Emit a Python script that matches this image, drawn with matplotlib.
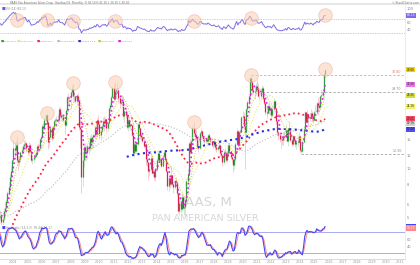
import numpy as np
import pandas as pd
import matplotlib
matplotlib.use("Agg")
import matplotlib.pyplot as plt

# PAAS monthly bars, dividend adjusted
first_month = "1995-05"

# closes before the visible window, only used for the long averages
pre_close = [5.2, 5.5, 5.8, 6.2, 6.6, 6.0, 6.3, 6.8,
             7.5, 8.3, 8.0, 8.6, 9.2, 8.4, 7.8, 7.4, 7.9, 8.2, 7.6, 7.2,
             7.6, 7.0, 6.5, 6.0, 6.4, 6.1, 6.6, 6.9, 7.2, 6.3, 5.6, 5.3,
             5.6, 6.0, 5.7, 6.3, 5.5, 4.9, 5.1, 4.2, 4.8, 5.2, 4.9, 4.5,
             4.4, 4.2, 4.0, 4.3, 4.1, 3.9, 4.2, 4.0, 4.6, 4.1, 3.8, 3.9,
             3.6, 3.4, 3.2, 3.0, 3.1, 3.3, 3.0, 2.8, 2.9, 2.6, 2.5, 2.4,
             2.5, 2.4, 2.3, 2.6, 2.8, 2.7, 2.6, 2.5, 2.7, 2.9, 3.1, 3.6,
             4.0, 4.3, 4.6, 5.3, 5.9, 5.6, 5.2, 5.5, 5.9, 5.3, 5.6, 5.4]

close = [5.0, 5.1, 4.7, 4.9, 5.5, 5.7, 6.3, 7.1, 7.7, 8.9, 9.7, 11.3,          # 2003
         13.3, 13.0, 14.0, 11.3, 10.9, 11.4, 12.6, 13.1, 13.8, 14.2, 14.4, 13.3,  # 2004
         12.6, 14.0, 12.9, 11.3, 11.5, 11.8, 12.0, 12.4, 13.8, 13.4, 15.2, 15.6,  # 2005
         18.2, 17.9, 20.0, 21.5, 19.4, 14.6, 15.6, 17.8, 15.4, 18.0, 19.6, 19.9,  # 2006
         20.1, 19.9, 23.4, 21.3, 20.8, 20.8, 20.0, 18.6, 22.9, 27.7, 27.2, 27.6,  # 2007
         29.5, 31.0, 28.1, 28.1, 26.2, 28.0, 26.3, 18.0, 17.5, 8.9, 11.3, 13.5,   # 2008
         12.5, 12.6, 13.7, 13.3, 15.4, 14.5, 15.6, 16.0, 18.0, 16.3, 20.0, 18.8,  # 2009
         16.1, 17.0, 18.3, 19.7, 19.0, 20.2, 17.8, 19.0, 23.7, 24.6, 27.8, 31.4,  # 2010
         26.7, 30.3, 30.4, 30.6, 27.2, 25.3, 25.8, 26.2, 21.0, 22.6, 21.4, 18.0,  # 2011
         19.8, 18.2, 18.6, 16.1, 12.5, 14.2, 12.9, 14.2, 18.7, 17.8, 16.1, 15.7,  # 2012
         14.8, 13.8, 14.2, 11.5, 10.9, 9.7, 9.9, 11.6, 9.4, 9.6, 8.9, 9.9,        # 2013
         11.3, 12.4, 11.3, 11.4, 10.4, 12.0, 12.7, 11.5, 9.6, 7.8, 8.7, 8.0,      # 2014
         9.1, 8.0, 7.7, 8.4, 8.2, 7.1, 5.5, 6.1, 5.6, 6.7, 5.7, 5.8,              # 2015
         6.3, 8.4, 9.3, 14.4, 12.7, 14.7, 17.9, 16.5, 16.0, 15.4, 13.7, 13.4,     # 2016
         16.5, 17.1, 15.8, 15.1, 14.7, 15.2, 14.7, 16.1, 15.3, 14.7, 13.9, 14.0,  # 2017
         14.6, 13.6, 13.2, 13.5, 13.9, 12.4, 12.1, 11.0, 12.7, 12.4, 11.3, 12.5,  # 2018
         13.9, 12.8, 11.7, 11.4, 10.5, 11.4, 14.2, 17.1, 14.0, 16.8, 16.9, 20.9,  # 2019
         21.1, 18.4, 16.7, 23.2, 25.9, 28.0, 36.4, 34.4, 30.4, 29.8, 30.2, 32.4,  # 2020
         31.2, 28.1, 28.2, 29.6, 31.4, 27.2, 25.4, 22.4, 22.1, 24.3, 23.0, 23.7,  # 2021
         21.4, 23.3, 26.2, 23.5, 19.6, 16.8, 16.2, 15.2, 15.3, 15.0, 15.9, 15.6,  # 2022
         17.3, 14.7, 17.7, 17.4, 15.1, 14.2, 15.8, 14.9, 14.1, 14.6, 14.7, 15.8,  # 2023
         13.0, 12.9, 14.6, 17.6, 22.2, 19.5, 21.7, 20.8, 20.4, 21.9, 21.1, 19.8,  # 2024
         22.3, 22.2, 25.3, 24.6, 24.1, 28.1, 28.4, 29.8, 38.1, 40.6]              # 2025

high = [5.7, 5.5, 5.3, 5.1, 5.7, 6.2, 6.5, 7.3, 8.2, 9.2, 10.3, 11.5,
        15.0, 14.3, 14.8, 15.6, 12.0, 11.9, 12.9, 13.5, 14.2, 14.9, 15.0, 14.6,
        13.6, 14.5, 14.4, 13.1, 12.1, 12.3, 12.5, 12.9, 14.2, 14.3, 15.5, 16.1,
        18.9, 19.2, 20.4, 21.8, 22.0, 19.6, 16.4, 18.4, 18.3, 18.4, 20.2, 20.5,
        21.0, 21.6, 23.8, 24.0, 22.2, 21.6, 21.8, 20.1, 23.2, 28.3, 29.3, 28.0,
        30.2, 32.6, 33.8, 29.8, 28.6, 29.0, 29.4, 26.6, 20.2, 17.9, 12.4, 13.9,
        14.3, 13.9, 14.3, 14.6, 16.0, 16.3, 15.9, 16.5, 18.5, 19.0, 20.6, 21.4,
        19.6, 17.6, 18.8, 20.8, 21.0, 20.8, 20.4, 19.4, 23.9, 25.6, 28.6, 31.9,
        33.2, 34.3, 31.6, 33.5, 31.4, 27.6, 27.4, 28.5, 27.6, 23.6, 23.8, 21.6,
        20.6, 20.7, 19.4, 18.8, 16.3, 14.6, 14.6, 14.6, 19.0, 19.4, 17.9, 16.6,
        16.4, 15.3, 14.5, 14.3, 11.9, 11.0, 10.7, 12.4, 12.1, 10.3, 9.9, 10.1,
        11.6, 13.0, 12.9, 11.9, 11.4, 12.2, 13.1, 12.8, 11.6, 9.7, 9.0, 9.2,
        10.4, 9.3, 8.3, 8.6, 8.9, 8.3, 7.2, 6.3, 6.4, 7.1, 6.9, 6.1,
        6.5, 8.7, 10.0, 14.6, 15.3, 14.9, 18.6, 19.3, 17.7, 17.6, 16.0, 14.7,
        16.9, 17.9, 17.3, 16.2, 15.6, 15.6, 15.6, 16.4, 16.6, 15.6, 14.9, 14.5,
        15.4, 14.7, 13.8, 14.0, 14.3, 14.1, 12.9, 12.2, 13.1, 13.3, 12.9, 12.8,
        14.6, 14.3, 12.9, 12.0, 11.5, 11.8, 14.6, 17.9, 17.4, 17.2, 17.6, 21.2,
        22.6, 22.3, 19.5, 23.6, 26.6, 28.8, 36.8, 37.8, 35.2, 32.6, 32.4, 33.6,
        35.0, 33.5, 30.0, 31.0, 32.9, 32.2, 28.5, 25.9, 23.8, 25.5, 25.9, 24.5,
        23.9, 24.2, 27.0, 26.6, 23.6, 19.8, 17.1, 16.8, 16.0, 16.2, 16.7, 17.1,
        18.8, 17.3, 17.8, 19.6, 17.5, 15.5, 16.2, 16.0, 15.2, 15.1, 15.9, 16.7,
        16.0, 13.4, 15.0, 18.2, 22.6, 22.3, 23.0, 22.1, 21.9, 23.4, 22.6, 21.7,
        22.9, 24.5, 25.8, 27.6, 26.0, 28.6, 31.0, 30.4, 38.4, 41.2]

low = [4.8, 4.8, 4.5, 4.5, 4.8, 5.3, 5.6, 6.2, 6.9, 7.6, 8.5, 9.5,
       11.0, 11.6, 12.2, 10.8, 9.8, 10.3, 11.0, 12.0, 12.6, 13.2, 13.6, 12.6,
       12.2, 12.3, 12.6, 10.9, 10.6, 11.0, 11.4, 11.8, 12.2, 12.8, 13.2, 14.6,
       15.4, 17.0, 17.4, 19.6, 17.6, 13.2, 13.6, 15.4, 14.8, 15.2, 17.7, 18.6,
       19.1, 19.0, 19.5, 20.8, 20.2, 19.6, 19.3, 16.2, 18.3, 22.4, 25.0, 24.3,
       23.4, 28.3, 26.4, 25.8, 25.2, 24.8, 25.4, 17.4, 13.4, 7.1, 7.8, 10.2,
       11.3, 11.2, 11.4, 12.3, 12.9, 13.8, 13.4, 14.4, 15.3, 15.6, 15.8, 17.7,
       15.2, 15.0, 16.7, 18.1, 17.0, 18.4, 17.1, 17.3, 18.8, 22.6, 24.0, 27.4,
       25.6, 26.5, 27.4, 29.5, 25.3, 23.6, 24.6, 23.8, 20.3, 19.0, 20.4, 17.5,
       17.1, 17.9, 17.3, 15.6, 12.1, 11.8, 12.4, 12.5, 14.0, 16.7, 15.2, 15.0,
       14.5, 13.3, 13.0, 10.4, 10.3, 8.5, 9.0, 9.7, 9.2, 9.0, 8.5, 8.4,
       9.7, 11.0, 11.0, 10.8, 10.2, 10.2, 11.8, 11.3, 9.5, 7.4, 7.3, 7.6,
       7.9, 7.9, 7.1, 7.5, 7.9, 6.9, 5.3, 5.2, 5.3, 5.5, 5.6, 5.2,
       5.0, 6.0, 8.1, 9.2, 12.3, 12.5, 14.6, 16.0, 14.8, 14.9, 13.2, 12.6,
       13.2, 16.0, 15.4, 14.5, 14.0, 14.4, 14.2, 14.5, 15.0, 14.3, 13.5, 13.2,
       13.5, 13.1, 12.6, 12.8, 13.2, 12.0, 11.6, 10.3, 10.6, 11.8, 10.9, 11.0,
       12.3, 12.6, 11.5, 10.8, 9.5, 10.0, 11.2, 13.9, 13.5, 13.6, 15.9, 16.8,
       19.4, 17.6, 10.0, 15.4, 21.6, 24.5, 27.9, 31.3, 28.3, 28.9, 27.0, 28.4,
       29.5, 27.6, 26.3, 27.0, 29.3, 26.6, 24.6, 21.4, 20.6, 21.8, 21.8, 21.5,
       20.6, 20.9, 22.5, 23.2, 18.7, 15.9, 14.9, 14.6, 13.4, 13.9, 14.0, 14.9,
       15.4, 14.5, 13.8, 16.8, 14.5, 13.7, 14.0, 14.7, 13.6, 13.2, 13.8, 14.3,
       12.7, 12.3, 12.7, 14.5, 17.3, 19.1, 19.3, 18.3, 19.6, 20.4, 19.7, 19.2,
       19.6, 21.4, 21.8, 21.4, 22.5, 23.6, 26.9, 27.0, 29.8, 36.2]

peak_months = ["2004-04", "2006-05", "2008-03", "2011-02", "2016-08", "2020-08", "2025-10"]
res_level, res_from = 37.8, "2020-08"
sup_levels = [29.7, 12.3]
sup_from = ["2021-05", "2024-02"]

ma_periods = [20, 50, 100, 200, 10, 5]
ma_colors = ['#e9e96e', '#ff2646', '#bcbcbc', '#1f2fe8', '#c4c43a', '#e01ee0']
ma_widths = [0.8, 1.3, 0.8, 1.5, 0.7, 1.2]
years = list(range(2004, 2032))

# ---------------------------------------------------------------
c = pd.Series(pre_close + close, dtype=float)
h = pd.Series(pre_close + high, dtype=float)
l = pd.Series(pre_close + low, dtype=float)
o = c.shift(1).fillna(c.iloc[0])
months = pd.period_range(first_month, periods=len(c), freq="M")
t = np.array([p.year + (p.month - 1) / 12 for p in months])


def idx(m):
    return months.get_loc(pd.Period(m, "M"))


mas = [c.rolling(n).mean() for n in ma_periods]

d = c.diff()
gain = d.clip(lower=0).ewm(alpha=1 / 14, adjust=False).mean()
loss = (-d.clip(upper=0)).ewm(alpha=1 / 14, adjust=False).mean()
rsi = 100 - 100 / (1 + gain / loss)

lo14 = l.rolling(14).min()
hi14 = h.rolling(14).max()
stoch_k = (100 * (c - lo14) / (hi14 - lo14)).rolling(3).mean()
stoch_d = stoch_k.rolling(3).mean()

vis = t >= 2003
X0, X1 = 2003.07, 2031.33

fig = plt.figure(figsize=(4.2, 2.65), dpi=100)
fig.patch.set_facecolor('white')


def box(x0, y0, x1, y1):
    return [x0 / 420, 1 - y1 / 265, (x1 - x0) / 420, (y1 - y0) / 265]


ax_r = fig.add_axes(box(0, 5, 405, 38))
ax = fig.add_axes(box(0, 38, 405, 225))
ax_s = fig.add_axes(box(0, 225, 405, 259))

for a in (ax_r, ax, ax_s):
    a.set_xlim(X0, X1)
    for s in ('left', 'top'):
        a.spines[s].set_visible(False)
    a.spines['bottom'].set_color('#d4d4d4')
    a.spines['right'].set_color('#e4e4e4')
    a.spines['bottom'].set_linewidth(0.6)
    a.spines['right'].set_linewidth(0.5)
    a.yaxis.tick_right()
    a.tick_params(axis='y', length=0, pad=1.5, labelsize=2.6, labelcolor='#8a8a8a')
    a.tick_params(axis='x', length=0, labelbottom=False)
    a.set_facecolor('white')

fig.add_artist(plt.Line2D([0, 1], [1 - 4 / 265] * 2, color='#e2e2e2', lw=1.2))
fig.text(0.025, 0.997, "PAAS Pan American Silver Corp.  Nasdaq GS  Monthly  O 38.10 H 41.20 L 36.20 C 40.60",
         fontsize=2.0, color='#777777', va='top')
fig.text(0.997, 0.997, "\u00a9 StockCharts.com", fontsize=2.0, color='#777777', va='top', ha='right')

# ---- price panel
ax.set_yscale('log')
ax.set_ylim(4.48, 63.9)
ax.set_yticks([5, 6, 8, 10, 12, 15])
ax.set_yticklabels(['5', '6', '8', '10', '12', '15'])
ax.yaxis.set_minor_locator(matplotlib.ticker.NullLocator())

ax.text(0.506, 0.118, "PAAS, M", transform=ax.transAxes, ha='center', va='center',
        fontsize=9.5, color='#d6d6d6', zorder=0)
ax.text(0.506, 0.037, "PAN AMERICAN SILVER", transform=ax.transAxes, ha='center', va='center',
        fontsize=6.8, color='#d6d6d6', zorder=0)

up = (c >= o).values
body_col = np.where(up, '#2f9e3c', '#d61f4c')
wick_col = np.where(up, '#bfdcbf', '#f2b8c6')
ax.vlines(t[vis], l[vis], h[vis], colors=wick_col[vis], lw=0.5, zorder=2)
ax.vlines(t[vis], np.minimum(o, c)[vis], np.maximum(o, c)[vis], colors=body_col[vis], lw=0.9, zorder=3)

for ma, col, lw in zip(mas, ma_colors, ma_widths):
    ax.plot(t[vis], ma[vis], color=col, lw=lw, ls=':', zorder=4)

i_res = idx(res_from)
ax.hlines(res_level, t[i_res], X1, colors='#f5a0a0', lw=0.6, ls=(0, (3, 2)), zorder=1)
ax.text(0.992, res_level * 1.02, f"{res_level:.2f}", transform=ax.get_yaxis_transform(),
        ha='right', va='bottom', fontsize=2.3, color='#ee7070')
for lev, m in zip(sup_levels, sup_from):
    ax.hlines(lev, t[idx(m)], X1, colors='#a8a8a8', lw=0.6, ls=(0, (3, 2)), zorder=1)
    ax.text(0.992, lev * 1.01, f"{lev:.2f}", transform=ax.get_yaxis_transform(),
            ha='right', va='bottom', fontsize=2.3, color='#888888')

pk = [idx(m) for m in peak_months]
ax.scatter(t[pk], h.values[pk], s=95, facecolor='#fbcfb4', edgecolor='#f2a98a',
           lw=0.6, alpha=0.55, zorder=6)

# legend row
last = len(c) - 1
leg_names = ["PAAS"] + [f"MA{n}" for n in ma_periods]
leg_vals = [c.iloc[last]] + [m.iloc[last] for m in mas]
leg_cols = ['#2f9e3c'] + ma_colors
leg_x = [1, 17, 37, 57, 78, 98, 118]
for xp, nm, v, col in zip(leg_x, leg_names, leg_vals, leg_cols):
    ax.text(xp / 405, 0.984, "\u25a0", transform=ax.transAxes, fontsize=2.4, color=col, va='center')
    ax.text(xp / 405 + 0.007, 0.984, f"{nm} {v:.1f}", transform=ax.transAxes,
            fontsize=1.7, color='#8a8a8a', va='center')

# value boxes on the right axis, pushed apart so they do not cover each other
box_series = [c.iloc[last], mas[5].iloc[last], mas[4].iloc[last], mas[0].iloc[last],
              mas[1].iloc[last], mas[2].iloc[last], mas[3].iloc[last]]
box_cols = ['#f0d200', '#e874e8', '#d2dc3c', '#f0f06a', '#f24a66', '#cfcfcf', '#5050f0']
order = np.argsort(box_series)[::-1]
prev_px = None
for k in order:
    v = box_series[k]
    px = ax.transData.transform((X1, v))[1]
    shift = 0.0
    if prev_px is not None and prev_px - px < 4.2:
        shift = -(4.2 - (prev_px - px))
    prev_px = px + shift
    ax.annotate(f"{v:.2f}", xy=(1.004, v), xycoords=ax.get_yaxis_transform(),
                xytext=(0, shift * 0.72), textcoords='offset points',
                fontsize=2.0, color='#222222', va='center', ha='left', annotation_clip=False,
                bbox=dict(boxstyle='square,pad=0.2', fc=box_cols[k], ec='none'))

# ---- RSI panel
ax_r.set_ylim(15.7, 110)
ax_r.set_yticks([100, 60, 40])
ax_r.axhline(70, color='#bab2f4', lw=0.5, ls=(0, (2, 1.5)))
ax_r.axhline(30, color='#bab2f4', lw=0.5, ls=(0, (2, 1.5)))
ax_r.plot(t[vis], rsi[vis], color='#7d6ce6', lw=0.7, zorder=3)
ax_r.scatter(t[pk], rsi.values[pk], s=95, facecolor='#fbcfb4', edgecolor='#f2a98a',
             lw=0.6, alpha=0.55, zorder=5)
ax_r.text(0.004, 0.94, "\u25a0", transform=ax_r.transAxes, fontsize=2.6, color='#6a5ae0', va='top')
ax_r.text(0.013, 0.94, f"RSI (14) {rsi.iloc[last]:.2f}", transform=ax_r.transAxes,
          fontsize=2.1, color='#8a8a8a', va='top')
ax_r.text(1.004, rsi.iloc[last], f"{rsi.iloc[last]:.2f}", transform=ax_r.get_yaxis_transform(),
          fontsize=2.2, color='white', va='center', ha='left', clip_on=False,
          bbox=dict(boxstyle='square,pad=0.25', fc='#7d6ce6', ec='none'))

# ---- stochastic panel
ax_s.set_ylim(2.9, 100)
ax_s.set_yticks([60, 40])
ax_s.axhline(80, color='#a9acf6', lw=0.7)
ax_s.axhline(20, color='#a9acf6', lw=0.7)
ax_s.plot(t[vis], stoch_d[vis], color='#ff8a8a', lw=0.7, zorder=3)
ax_s.plot(t[vis], stoch_k[vis], color='#4646ee', lw=0.8, zorder=4)
ax_s.text(0.004, 0.96, "\u25a0", transform=ax_s.transAxes, fontsize=2.6, color='#4646ee', va='top')
ax_s.text(0.013, 0.96, f"Stochastic (14,3,3)  {stoch_k.iloc[last]:.2f}  {stoch_d.iloc[last]:.2f}",
          transform=ax_s.transAxes, fontsize=2.1, color='#8a8a8a', va='top')
for v, col in zip([stoch_k.iloc[last], stoch_d.iloc[last]], ['#4646ee', '#ff8a8a']):
    ax_s.text(1.004, v, f"{v:.2f}", transform=ax_s.get_yaxis_transform(), fontsize=2.2,
              color='white', va='center', ha='left', clip_on=False,
              bbox=dict(boxstyle='square,pad=0.25', fc=col, ec='none'))

ax_s.set_xticks(years)
ax_s.set_xticklabels([str(y) for y in years])
ax_s.tick_params(axis='x', labelbottom=True, labelsize=2.4, labelcolor='#9a9a9a', pad=1)

fig.savefig("out.png", dpi=100, facecolor='white')
